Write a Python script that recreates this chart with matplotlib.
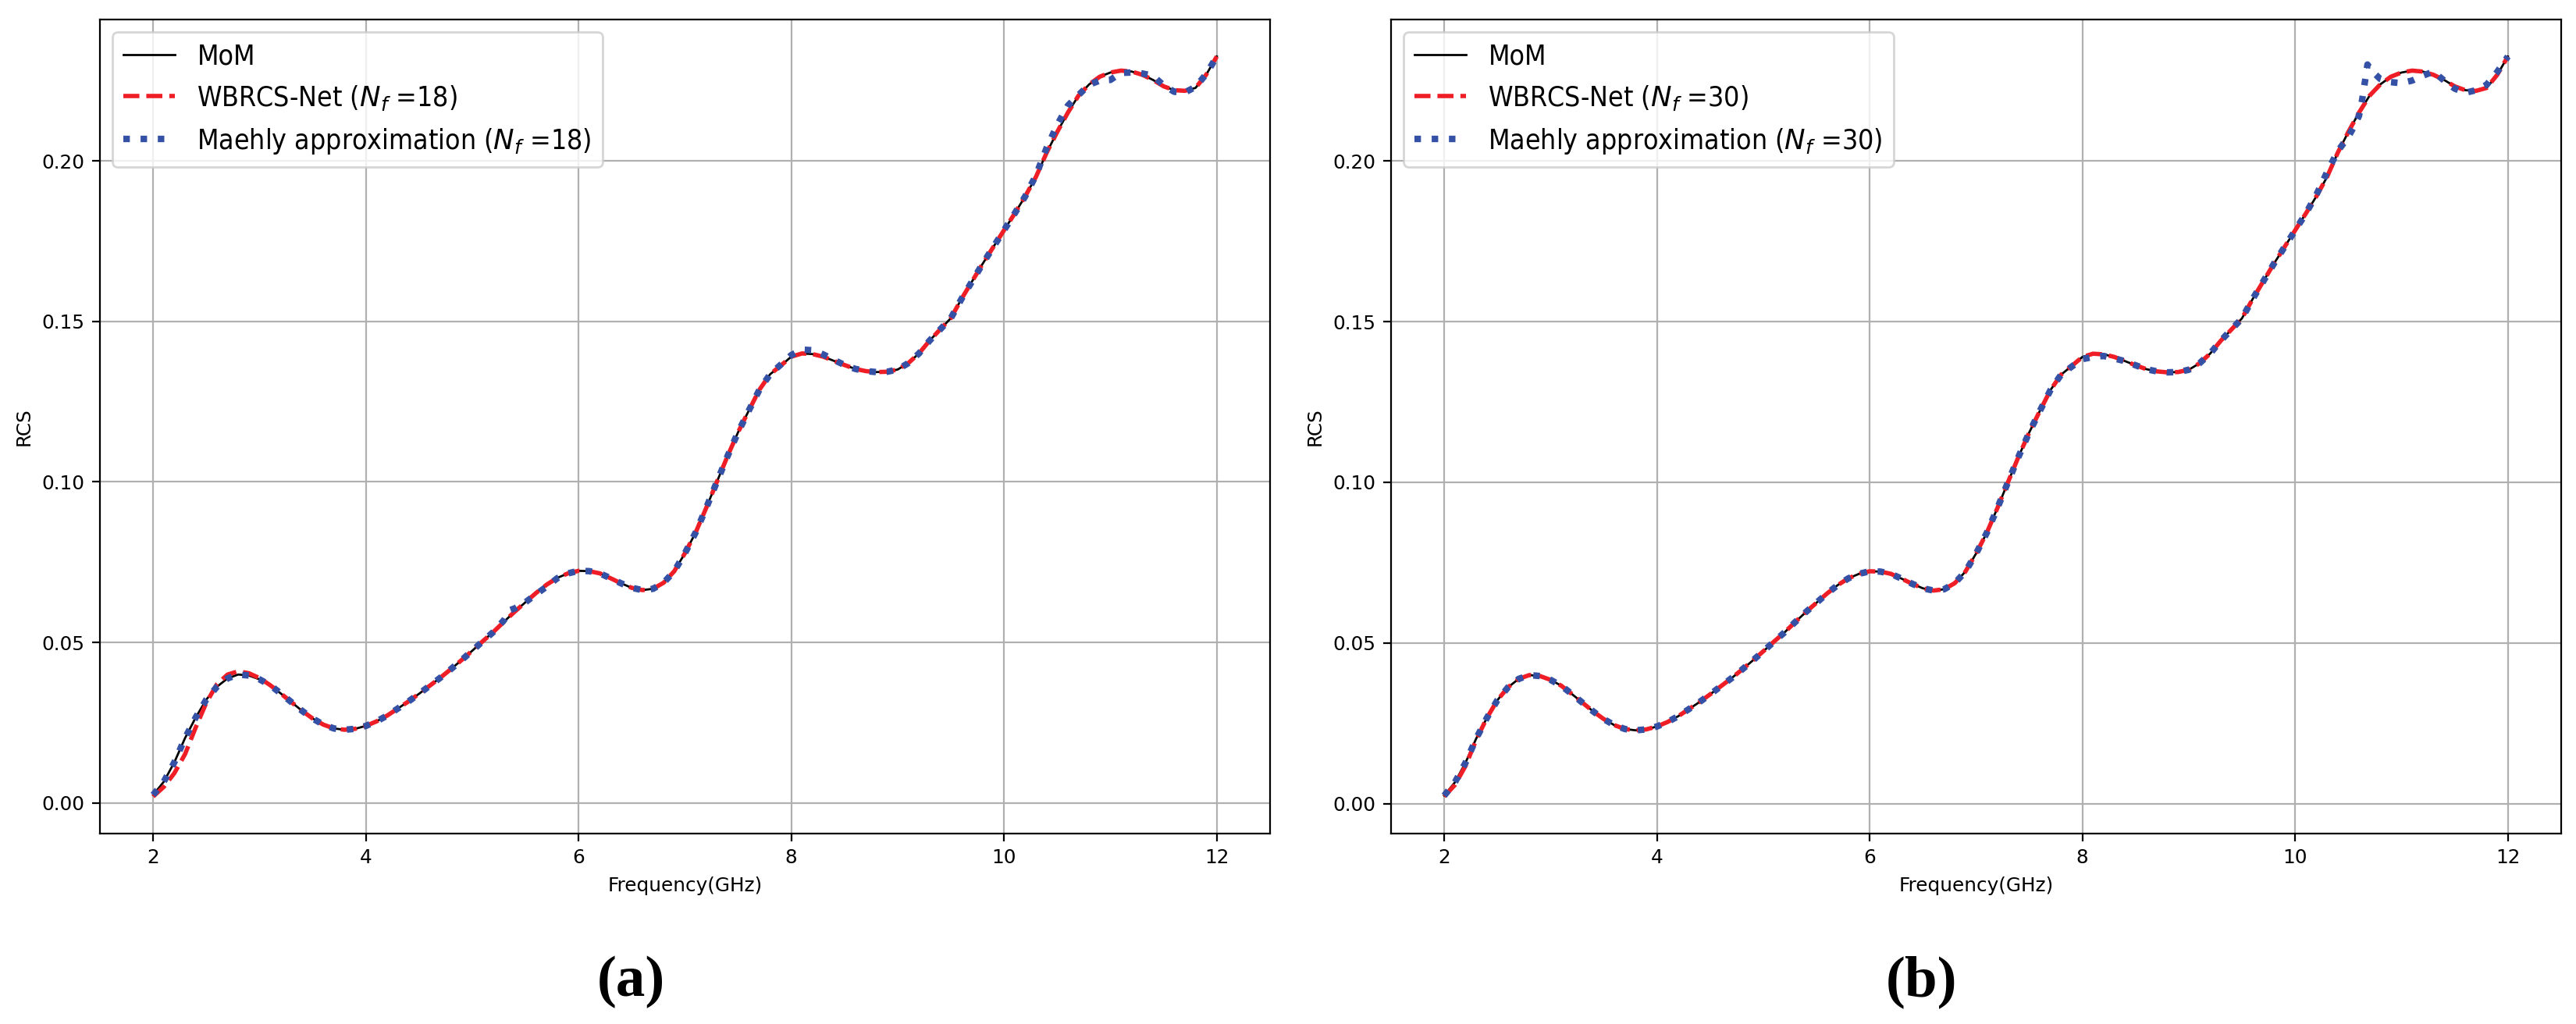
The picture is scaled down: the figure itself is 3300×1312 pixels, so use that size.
import numpy as np
import matplotlib
matplotlib.use('Agg')
import matplotlib.pyplot as plt
from matplotlib.font_manager import FontProperties, fontManager

# frequency grid (GHz) for the MoM reference
freq = np.linspace(2.0, 12.0, 101)

mom = np.array([
    0.0025, 0.0066, 0.0127, 0.0202, 0.0266, 0.0322, 0.0362, 0.0388, 0.0400, 0.0397,
    0.0385, 0.0367, 0.0341, 0.0314, 0.0287, 0.0263, 0.0244, 0.0232, 0.0228, 0.0231,
    0.0240, 0.0254, 0.0272, 0.0294, 0.0316, 0.0340, 0.0365, 0.0390, 0.0417, 0.0445,
    0.0474, 0.0504, 0.0533, 0.0565, 0.0596, 0.0625, 0.0654, 0.0680, 0.0701, 0.0715,
    0.0723, 0.0722, 0.0715, 0.0700, 0.0684, 0.0670, 0.0663, 0.0667, 0.0686, 0.0722,
    0.0778, 0.0842, 0.0919, 0.1000, 0.1080, 0.1155, 0.1222, 0.1287, 0.1335, 0.1362,
    0.1390, 0.1400, 0.1398, 0.1390, 0.1377, 0.1364, 0.1352, 0.1345, 0.1342, 0.1343,
    0.1350, 0.1370, 0.1400, 0.1440, 0.1475, 0.1510, 0.1570, 0.1625, 0.1680, 0.1732,
    0.1784, 0.1836, 0.1890, 0.1950, 0.2025, 0.2090, 0.2150, 0.2203, 0.2238, 0.2262,
    0.2275, 0.2281, 0.2278, 0.2268, 0.2252, 0.2232, 0.2220, 0.2218, 0.2227, 0.2268,
    0.2325,
])

# pieces where the approximations leave the MoM curve
wb18_f = [2.0, 2.1, 2.2, 2.3, 2.4, 2.5, 2.6, 2.7, 2.8, 2.9, 3.0]
wb18_v = [0.0020, 0.0050, 0.0093, 0.0152, 0.0235, 0.0312, 0.0370, 0.0400, 0.0410, 0.0404, 0.0389]

wb30_f = [2.0, 2.1, 2.2, 2.3]
wb30_v = [0.0022, 0.0058, 0.0117, 0.0198]

mae18_f = [[5.2, 5.3, 5.35, 5.4, 5.5, 5.6, 5.7, 5.8],
           [7.9, 8.0, 8.1, 8.2, 8.3, 8.4],
           [10.3, 10.4, 10.5, 10.6, 10.7, 10.8, 10.9, 11.0, 11.1, 11.2, 11.3, 11.4,
            11.5, 11.6, 11.7, 11.8, 11.9, 12.0]]
mae18_v = [[0.0533, 0.0570, 0.0600, 0.0606, 0.0625, 0.0650, 0.0674, 0.0700],
           [0.1365, 0.1395, 0.1412, 0.1410, 0.1397, 0.1380],
           [0.1955, 0.2040, 0.2112, 0.2172, 0.2205, 0.2237, 0.2250, 0.2252, 0.2274, 0.2275,
            0.2272, 0.2265, 0.2235, 0.2215, 0.2213, 0.2230, 0.2270, 0.2325]]

mae30_f = [[7.9, 8.0, 8.1, 8.2, 8.3, 8.4, 8.5],
           [10.2, 10.3, 10.4, 10.5, 10.55, 10.6, 10.63, 10.66, 10.68, 10.72, 10.8, 10.9,
            11.0, 11.1, 11.2, 11.3, 11.4, 11.5, 11.6, 11.7, 11.8, 11.9, 12.0]]
mae30_v = [[0.1360, 0.1383, 0.1390, 0.1393, 0.1385, 0.1377, 0.1364],
           [0.1895, 0.1965, 0.2030, 0.2075, 0.2105, 0.2140, 0.2190, 0.2255, 0.2300, 0.2280,
            0.2255, 0.2245, 0.2242, 0.2250, 0.2265, 0.2278, 0.2250, 0.2225, 0.2212, 0.2220,
            0.2237, 0.2277, 0.2325]]


def splice(pieces_f, pieces_v):
    x, y = freq.copy(), mom.copy()
    for pf, pv in zip(pieces_f, pieces_v):
        keep = (x < pf[0] - 1e-9) | (x > pf[-1] + 1e-9)
        x = np.concatenate([x[keep], pf])
        y = np.concatenate([y[keep], pv])
        order = np.argsort(x)
        x, y = x[order], y[order]
    return x, y


panels = [
    ('18', splice([wb18_f], [wb18_v]), splice(mae18_f, mae18_v), '(a)'),
    ('30', splice([wb30_f], [wb30_v]), splice(mae30_f, mae30_v), '(b)'),
]

# legend text in the original is a condensed sans
cond = [f.fname for f in fontManager.ttflist if 'Condensed' in f.fname and 'DejaVuSans' in f.fname
        and 'Bold' not in f.fname and 'Oblique' not in f.fname]
if cond:
    leg_font = FontProperties(fname=cond[0], size=12.8)
else:
    leg_font = FontProperties(size=11.8)

fig = plt.figure(figsize=(16.5, 6.56), dpi=200)
lefts = [0.0388, 0.540]
caps_x = [0.245, 0.746]

for i, (nf, wb, mae, cap) in enumerate(panels):
    ax = fig.add_axes([lefts[i], 0.186, 0.4542, 0.795])
    ax.plot(freq, mom, color='black', lw=1.0, label='MoM')
    ax.plot(wb[0], wb[1], color='#ee1d26', lw=2.0, ls='--',
            label='WBRCS-Net ($N_f$ =' + nf + ')')
    ax.plot(mae[0], mae[1], color='#3551a6', lw=3.0, ls=':',
            label='Maehly approximation ($N_f$ =' + nf + ')')
    ax.set_xticks([2, 4, 6, 8, 10, 12])
    ax.set_yticks([0.0, 0.05, 0.10, 0.15, 0.20])
    ax.grid(True)
    ax.tick_params(labelsize=8.9)
    ax.set_xlabel('Frequency(GHz)', fontsize=8.9)
    ax.set_ylabel('RCS', fontsize=8.9)
    ax.legend(loc='upper left', prop=leg_font, handlelength=1.85, borderaxespad=0.45)
    fig.text(caps_x[i], 0.041, cap, ha='center', va='center', fontsize=27,
             fontweight='bold', family='Liberation Serif')

fig.savefig('out.png', dpi=200)
